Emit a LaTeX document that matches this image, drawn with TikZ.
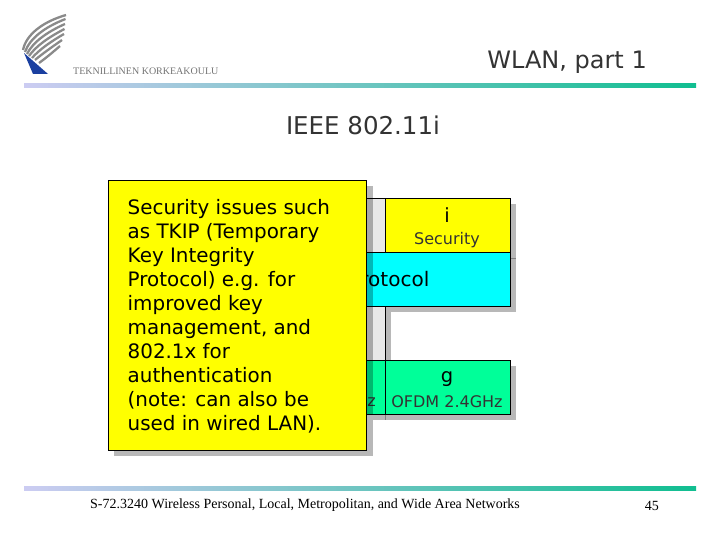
\documentclass[tikz,border=0pt]{standalone}
\usepackage{fontspec}
\setmainfont{DejaVu Sans}
\newfontfamily\serifface{Liberation Serif}
\definecolor{shadowgrey}{HTML}{B8B8B8}
\definecolor{lightcol}{HTML}{E8E8E8}
\definecolor{greenbox}{HTML}{00FF99}
\definecolor{notefill}{HTML}{FFFF00}
\definecolor{protofill}{HTML}{00FFFF}
\definecolor{ruleleft}{HTML}{CCCCF2}
\definecolor{ruleright}{HTML}{10BE90}
\definecolor{wing}{HTML}{8A8A8A}
\definecolor{wingblue}{HTML}{1A3FA0}
\definecolor{titlegrey}{HTML}{333333}
\tikzset{
  shadowbox/.style={fill=shadowgrey,draw=none},
  softshadow/.style={fill=black,fill opacity=0.28,draw=none},
  layerbox/.style={draw=black,line width=0.7pt},
  rulebar/.style={left color=ruleleft,right color=ruleright,draw=none},
  wingline/.style={draw=wing,line width=2.3pt},
  tag/.style={inner sep=0pt,font=\fontsize{16}{18}\selectfont,text=titlegrey},
  head/.style={inner sep=0pt,font=\fontsize{19.5}{22}\selectfont},
  title/.style={inner sep=0pt,font=\fontsize{24}{28}\selectfont,text=titlegrey},
}
\begin{document}
\begin{tikzpicture}[x=1pt,y=-1pt]
\useasboundingbox (0,0) rectangle (720,540);
% logo
\fill[wingblue] (24,53) -- (48,74) -- (33,74) -- cycle;
\draw[wingline] (23,50) .. controls (26,35) and (42,22) .. (66,15);
\draw[wingline] (25,52) .. controls (30,38) and (45,27) .. (65.5,19);
\draw[wingline] (27,54) .. controls (33,42) and (47,32) .. (65,24);
\draw[wingline] (29,56) .. controls (36,46) and (49,37) .. (64.5,29);
\draw[wingline] (32,58) .. controls (39,50) and (50,42) .. (64,34);
\draw[wingline] (35,60) .. controls (42,54) and (52,47) .. (62,40);
\draw[wingline] (39,63) .. controls (46,58) and (53,52) .. (60,46);
\node[inner sep=0pt,anchor=west,text=black!55,font=\serifface\fontsize{10}{12}\selectfont] (logotext) at (73,71) {TEKNILLINEN KORKEAKOULU};
% rules
\path[rulebar] (24,84) rectangle (696,88);
\path[rulebar] (24,486) rectangle (696,490);
% titles
\node[title,anchor=east] (slidetitle) at (647,62) {WLAN, part 1};
\node[inner sep=0pt,font=\fontsize{24.5}{28}\selectfont,text=titlegrey] (heading) at (363,125.5) {IEEE 802.11i};
% background stack
\path[shadowbox] (373,204) rectangle (391,366);
\path[shadowbox] (391,204) rectangle (516,258);
\path[shadowbox] (391,258) rectangle (516,312);
\path[shadowbox] (373,366) rectangle (516,420);
\draw[shadowgrey!70!black,line width=0.5pt] (510,258) -- (516,258);
\draw[shadowgrey!70!black,line width=0.5pt] (385,414) -- (385,420);
\draw[layerbox,fill=lightcol] (330,198) rectangle (385,360);
\draw[layerbox,fill=notefill] (385,198) rectangle (510,252);
\draw[layerbox,fill=protofill] (330,252) rectangle (510,306);
\draw[layerbox,fill=greenbox] (330,360) rectangle (385,414);
\draw[layerbox,fill=greenbox] (385,360) rectangle (510,414);
\node[head] (itag) at (447,215) {i};
\node[tag] (isub) at (447,240.5) {Security};
\node[inner sep=0pt,anchor=east,font=\fontsize{20}{24}\selectfont] (proto) at (429.5,279.5) {rotocol};
\node[head] (gtag) at (447,379) {g};
\node[tag] (gsub) at (447,402) {OFDM 2.4GHz};
\node[tag,anchor=east] (zsub) at (376,402) {z};
% yellow note
\path[softshadow] (114,186) rectangle (373,456);
\draw[layerbox,fill=notefill] (108.5,180.5) rectangle (366.5,450);
\node[inner sep=0pt,anchor=north west,align=left,font=\fontsize{19.9}{24}\selectfont] (note) at (127.5,199.5) {Security issues such\\as TKIP (Temporary\\Key Integrity\\Protocol) e.g. for\\improved key\\management, and\\802.1x for\\authentication\\(note: can also be\\used in wired LAN).};
% footer
\node[inner sep=0pt,anchor=west,font=\serifface\fontsize{14}{16}\selectfont] (footer) at (90,505.5) {S-72.3240 Wireless Personal, Local, Metropolitan, and Wide Area Networks};
\node[inner sep=0pt,anchor=east,font=\serifface\fontsize{14}{16}\selectfont] (page) at (659,505.5) {45};
\end{tikzpicture}
\end{document}
